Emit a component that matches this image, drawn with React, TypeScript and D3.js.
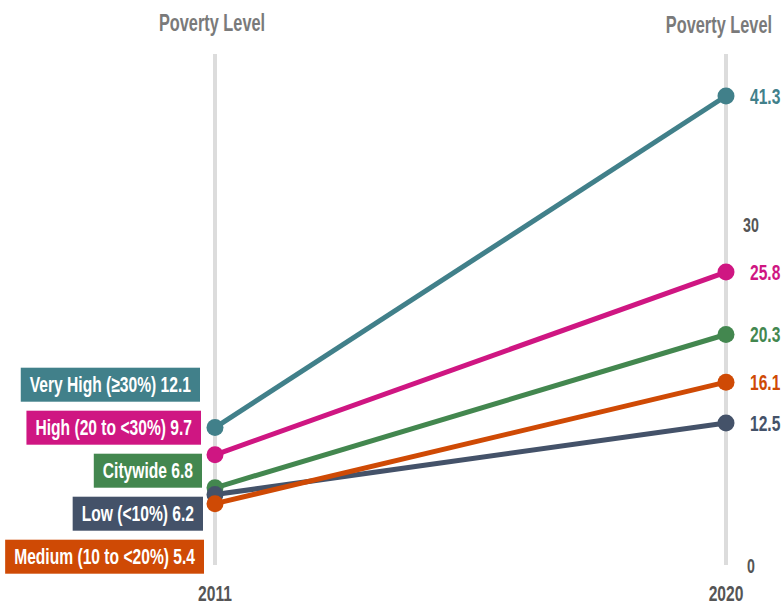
import React, { useEffect, useRef } from "react";
import * as d3 from "d3";

const years = ["2011", "2020"];
const seriesNames = ["Very High (≥30%)", "High (20 to <30%)", "Citywide", "Low (<10%)", "Medium (10 to <20%)"];
const values2011 = [12.1, 9.7, 6.8, 6.2, 5.4];
const values2020 = [41.3, 25.8, 20.3, 12.5, 16.1];
const colors = ["#41808a", "#cf1682", "#43874f", "#445269", "#cf4a05"];
const axisTicks = [0, 30];
const headerText = "Poverty Level";

const W = 782;
const H = 608;
const FONT = "'Liberation Sans Narrow', 'Arial Narrow', sans-serif";
const SQ = 0.71; // horizontal squeeze to mimic condensed face

export default function App() {
  const ref = useRef<SVGSVGElement | null>(null);

  useEffect(() => {
    const svg = d3.select(ref.current);
    svg.selectAll("*").remove();

    const x = d3.scalePoint<string>().domain(years).range([215, 726]);
    const y = d3.scaleLinear().domain([0, 45]).range([565, 54]);

    const x0 = x(years[0])!;
    const x1 = x(years[1])!;

    svg.selectAll("line.axis")
      .data(years)
      .enter()
      .append("line")
      .attr("x1", (d) => x(d)!)
      .attr("x2", (d) => x(d)!)
      .attr("y1", y(45))
      .attr("y2", y(0))
      .attr("stroke", "#dcdcdc")
      .attr("stroke-width", 4);

    const squeezedText = (
      g: any,
      tx: number,
      ty: number,
      anchor: string,
      text: string,
      size: number,
      fill: string
    ) => {
      const gg = g.append("g").attr("transform", `translate(${tx},${ty}) scale(${SQ},1)`);
      return gg
        .append("text")
        .attr("text-anchor", anchor)
        .attr("dominant-baseline", "central")
        .attr("font-family", FONT)
        .attr("font-weight", "bold")
        .attr("font-size", size)
        .attr("fill", fill)
        .text(text);
    };

    const root = svg.append("g") as any;

    squeezedText(root, x0 - 3, 23, "middle", headerText, 23, "#7a7a7a");
    squeezedText(root, 772, 25, "end", headerText, 23, "#7a7a7a");

    years.forEach((yr) => {
      squeezedText(root, x(yr)!, 594, "middle", yr, 22, "#555");
    });

    axisTicks.forEach((t) => {
      squeezedText(root, 751, y(t) + 1, "middle", String(t), 20, "#555");
    });

    seriesNames.forEach((_, i) => {
      svg.append("line")
        .attr("x1", x0)
        .attr("y1", y(values2011[i]))
        .attr("x2", x1)
        .attr("y2", y(values2020[i]))
        .attr("stroke", colors[i])
        .attr("stroke-width", 5);
    });
    seriesNames.forEach((_, i) => {
      svg.append("circle").attr("cx", x0).attr("cy", y(values2011[i])).attr("r", 8.5).attr("fill", colors[i]);
      svg.append("circle").attr("cx", x1).attr("cy", y(values2020[i])).attr("r", 8.5).attr("fill", colors[i]);
    });

    seriesNames.forEach((_, i) => {
      squeezedText(root, 750, y(values2020[i]), "start", d3.format(".1f")(values2020[i]), 22, colors[i]);
    });

    const idx = d3.range(seriesNames.length).sort((a, b) => y(values2011[a]) - y(values2011[b]));
    const meanY = d3.mean(idx, (i) => y(values2011[i]))! - 3;
    const spacing = 43;
    const labelG = svg.append("g");
    idx.forEach((i, k) => {
      const ly = meanY + (k - (idx.length - 1) / 2) * spacing;
      const g = labelG.append("g");
      const rectSel = g.append("rect");
      const right = 200 + k;
      const textRight = right - 9;
      const txt = squeezedText(g, textRight, ly, "end", `${seriesNames[i]} ${d3.format(".1f")(values2011[i])}`, 22, "#fff");
      const w = (txt.node() as SVGTextElement).getComputedTextLength() * SQ;
      const padL = 9;
      rectSel
        .attr("x", textRight - w - padL)
        .attr("y", ly - 17)
        .attr("width", right - (textRight - w - padL))
        .attr("height", 34)
        .attr("fill", colors[i]);
    });
  }, []);

  return (
    <svg
      ref={ref}
      width={W}
      height={H}
      style={{ position: "absolute", left: 0, top: 0, background: "#fff" }}
    />
  );
}
